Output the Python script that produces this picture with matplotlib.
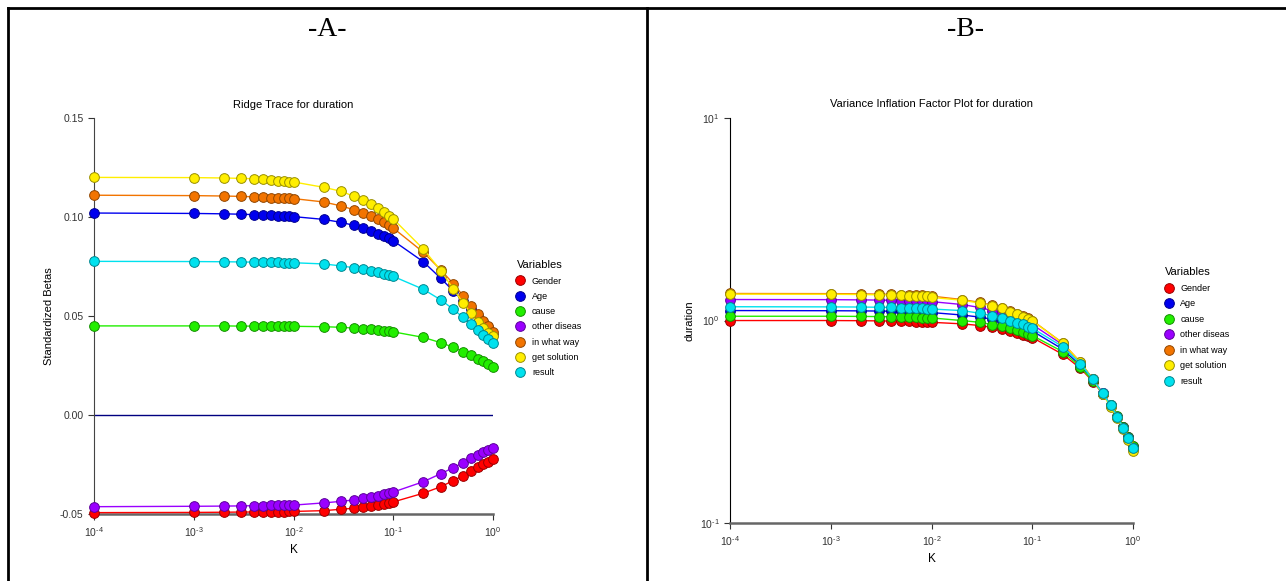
import numpy as np
import matplotlib
matplotlib.use("Agg")
import matplotlib.pyplot as plt
from matplotlib.lines import Line2D
from matplotlib.colors import to_rgb

plt.rcParams['font.family'] = ['Liberation Sans', 'DejaVu Sans']
plt.rcParams['mathtext.default'] = 'regular'

# ridge parameter K
k = [1e-4, 0.001, 0.002, 0.003, 0.004, 0.005, 0.006, 0.007, 0.008, 0.009, 0.01,
     0.02, 0.03, 0.04, 0.05, 0.06, 0.07, 0.08, 0.09, 0.1,
     0.2, 0.3, 0.4, 0.5, 0.6, 0.7, 0.8, 0.9, 1.0]
k_ticks = [1e-4, 1e-3, 1e-2, 1e-1, 1e0]
k_ticklabels = ["$10^{‐4}$", "$10^{‐3}$", "$10^{‐2}$", "$10^{‐1}$", "$10^{0}$"]

variables = ["Gender", "Age", "cause", "other diseas", "in what way", "get solution", "result"]
colors = ["#ff0000", "#0000ee", "#22ee00", "#9a00ff", "#f27400", "#ffee00", "#00e1ee"]

# panel A: standardized betas
beta_gender = [-0.0493, -0.0492, -0.0491, -0.0490, -0.0490, -0.0489, -0.0489, -0.0488, -0.0488, -0.0487, -0.0487,
               -0.0483, -0.0476, -0.0471, -0.0465, -0.0460, -0.0453, -0.0448, -0.0443, -0.0439,
               -0.0395, -0.0362, -0.0331, -0.0307, -0.0284, -0.0264, -0.0249, -0.0236, -0.0224]
beta_age = [0.1020, 0.1018, 0.1016, 0.1014, 0.1012, 0.1010, 0.1008, 0.1006, 0.1004, 0.1003, 0.1002,
            0.0988, 0.0973, 0.0958, 0.0943, 0.0929, 0.0916, 0.0904, 0.0892, 0.0880,
            0.0774, 0.0690, 0.0626, 0.0576, 0.0535, 0.0502, 0.0470, 0.0445, 0.0405]
beta_cause = [0.0450, 0.0450, 0.0450, 0.0449, 0.0449, 0.0449, 0.0449, 0.0448, 0.0448, 0.0448, 0.0448,
              0.0446, 0.0443, 0.0439, 0.0436, 0.0433, 0.0429, 0.0426, 0.0423, 0.0420,
              0.0392, 0.0365, 0.0342, 0.0320, 0.0302, 0.0285, 0.0272, 0.0258, 0.0243]
beta_other = [-0.0463, -0.0461, -0.0460, -0.0459, -0.0458, -0.0458, -0.0457, -0.0456, -0.0456, -0.0455, -0.0455,
              -0.0444, -0.0436, -0.0429, -0.0421, -0.0414, -0.0408, -0.0401, -0.0394, -0.0389,
              -0.0337, -0.0296, -0.0266, -0.0241, -0.0219, -0.0202, -0.0188, -0.0177, -0.0167]
beta_way = [0.1110, 0.1108, 0.1106, 0.1104, 0.1102, 0.1100, 0.1098, 0.1097, 0.1095, 0.1094, 0.1093,
            0.1076, 0.1056, 0.1037, 0.1020, 0.1003, 0.0988, 0.0973, 0.0958, 0.0944,
            0.0822, 0.0732, 0.0663, 0.0603, 0.0552, 0.0512, 0.0476, 0.0449, 0.0418]
beta_solution = [0.1200, 0.1199, 0.1197, 0.1195, 0.1193, 0.1190, 0.1187, 0.1184, 0.1181, 0.1179, 0.1177,
                 0.1150, 0.1130, 0.1105, 0.1086, 0.1064, 0.1047, 0.1027, 0.1007, 0.0990,
                 0.0838, 0.0729, 0.0636, 0.0567, 0.0514, 0.0468, 0.0438, 0.0416, 0.0400]
beta_result = [0.0776, 0.0775, 0.0774, 0.0773, 0.0772, 0.0772, 0.0771, 0.0771, 0.0770, 0.0770, 0.0769,
               0.0763, 0.0753, 0.0744, 0.0736, 0.0727, 0.0721, 0.0714, 0.0707, 0.0700,
               0.0635, 0.0581, 0.0534, 0.0493, 0.0460, 0.0429, 0.0404, 0.0382, 0.0362]

# panel B: variance inflation factors
vif_gender = [1.00, 1.00, 0.998, 0.996, 0.994, 0.992, 0.990, 0.988, 0.986, 0.984, 0.980,
              0.963, 0.945, 0.925, 0.905, 0.889, 0.869, 0.853, 0.840, 0.824,
              0.681, 0.581, 0.499, 0.435, 0.380, 0.335, 0.298, 0.266, 0.240]
vif_age = [1.12, 1.118, 1.116, 1.114, 1.112, 1.110, 1.107, 1.104, 1.101, 1.098, 1.095,
           1.065, 1.040, 1.015, 0.990, 0.966, 0.944, 0.925, 0.906, 0.888,
           0.722, 0.600, 0.508, 0.437, 0.381, 0.335, 0.297, 0.265, 0.238]
vif_cause = [1.05, 1.05, 1.048, 1.046, 1.044, 1.042, 1.040, 1.037, 1.034, 1.032, 1.030,
             1.000, 0.980, 0.955, 0.935, 0.916, 0.895, 0.879, 0.862, 0.843,
             0.702, 0.590, 0.502, 0.436, 0.381, 0.336, 0.298, 0.266, 0.240]
vif_other = [1.27, 1.268, 1.265, 1.262, 1.258, 1.255, 1.252, 1.249, 1.246, 1.243, 1.240,
             1.200, 1.160, 1.120, 1.085, 1.055, 1.025, 1.000, 0.975, 0.955,
             0.760, 0.618, 0.512, 0.437, 0.379, 0.333, 0.294, 0.262, 0.234]
vif_way = [1.36, 1.358, 1.355, 1.350, 1.346, 1.342, 1.338, 1.334, 1.330, 1.326, 1.320,
           1.270, 1.230, 1.190, 1.150, 1.115, 1.082, 1.052, 1.026, 1.000,
           0.775, 0.624, 0.513, 0.436, 0.378, 0.332, 0.293, 0.261, 0.232]
vif_solution = [1.35, 1.348, 1.344, 1.340, 1.336, 1.332, 1.328, 1.324, 1.320, 1.315, 1.300,
                1.260, 1.220, 1.180, 1.150, 1.108, 1.075, 1.046, 1.020, 0.997,
                0.772, 0.622, 0.512, 0.432, 0.375, 0.330, 0.290, 0.257, 0.227]
vif_result = [1.17, 1.168, 1.166, 1.163, 1.160, 1.157, 1.154, 1.151, 1.148, 1.145, 1.140,
              1.120, 1.087, 1.055, 1.030, 1.000, 0.977, 0.959, 0.934, 0.916,
              0.743, 0.613, 0.512, 0.437, 0.381, 0.334, 0.296, 0.264, 0.236]

betas = [beta_gender, beta_age, beta_cause, beta_other, beta_way, beta_solution, beta_result]
vifs = [vif_gender, vif_age, vif_cause, vif_other, vif_way, vif_solution, vif_result]


def darker(c, f=0.6):
    r, g, b = to_rgb(c)
    return (r * f, g * f, b * f)


def draw_panel(ax, series, title, ylabel, legend_pos, title_pad, spacing):
    for vals, name, col in zip(series, variables, colors):
        ax.plot(k, vals, color=col, lw=1.0, marker='o', ms=7.0,
                mfc=col, mec=darker(col), mew=0.7, label=name, zorder=3, clip_on=False)
    ax.set_xscale('log')
    ax.set_xlim(1e-4, 1.0)
    ax.set_xticks(k_ticks)
    ax.set_xticklabels(k_ticklabels)
    ax.minorticks_off()
    ax.set_title(title, fontsize=8, pad=title_pad)
    ax.set_xlabel("K", fontsize=8.5, labelpad=4)
    ax.set_ylabel(ylabel, fontsize=8)
    for s in ['top', 'right']:
        ax.spines[s].set_visible(False)
    ax.spines['left'].set_color('#444444')
    ax.spines['bottom'].set_color('#666666')
    ax.spines['bottom'].set_linewidth(1.8)
    ax.tick_params(labelsize=7.5, length=4, width=0.8, colors='#333333')
    ax.tick_params(axis='x', pad=4)
    handles = [Line2D([], [], ls='none', marker='o', ms=7, mfc=c, mec=darker(c), mew=0.7)
               for c in colors]
    leg = ax.legend(handles, variables, title="Variables", frameon=False,
                    loc='upper left', bbox_to_anchor=legend_pos,
                    fontsize=6.5, title_fontsize=8, handlelength=0.8,
                    handletextpad=0.9, labelspacing=spacing, borderaxespad=0)
    leg._legend_box.align = "left"


fig = plt.figure(figsize=(12.86, 5.81), dpi=100)

axA = fig.add_axes([0.0731, 0.1153, 0.3103, 0.6816])
draw_panel(axA, betas, "Ridge Trace for duration", "Standardized Betas", (1.05, 0.65), 7, 0.70)
axA.set_ylim(-0.05, 0.15)
axA.set_yticks([-0.05, 0.0, 0.05, 0.10, 0.15])
axA.set_yticklabels(["-0.05", "0.00", "0.05", "0.10", "0.15"])
axA.axhline(0.0, color='#000080', lw=1.0, zorder=2)

axB = fig.add_axes([0.5677, 0.0998, 0.3134, 0.697])
draw_panel(axB, vifs, "Variance Inflation Factor Plot for duration", "duration", (1.07, 0.64), 8, 0.72)
axB.set_yscale('log')
axB.set_ylim(0.1, 10)
axB.set_yticks([0.1, 1, 10])
axB.set_yticklabels(["$10^{‐1}$", "$10^{0}$", "$10^{1}$"])
axB.minorticks_off()
axB.spines['left'].set_color('black')

# panel headers
fig.text(327 / 1286, 1 - 30 / 581, "-A-", fontsize=20, family='Liberation Serif',
         ha='center', va='center')
fig.text(966 / 1286, 1 - 30 / 581, "-B-", fontsize=20, family='Liberation Serif',
         ha='center', va='center')

# frame around the two panels
lw = 2.0
top = 1 - 8 / 581
fig.add_artist(Line2D([8 / 1286, 1.0], [top, top], color='black', lw=lw))
fig.add_artist(Line2D([8 / 1286, 8 / 1286], [0, top], color='black', lw=lw))
fig.add_artist(Line2D([647 / 1286, 647 / 1286], [0, top], color='black', lw=lw))

fig.savefig("out.png", dpi=100)
